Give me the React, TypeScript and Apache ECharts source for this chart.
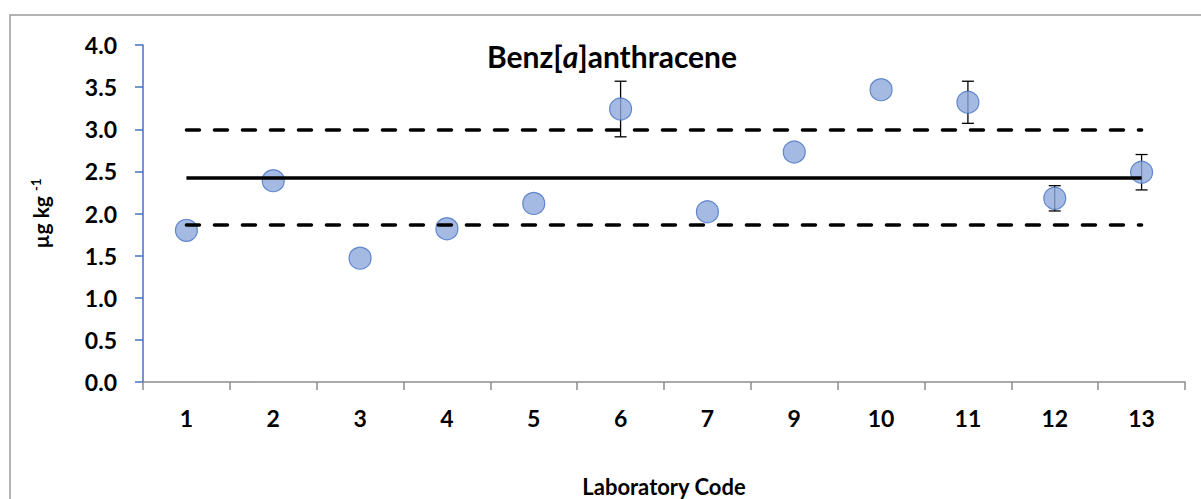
import React, { useEffect, useRef } from "react";
import * as echarts from "echarts";

// Laboratory codes and reported means (µg kg-1) with their uncertainties
const labCodes = ["1", "2", "3", "4", "5", "6", "7", "9", "10", "11", "12", "13"];
const labMeans = [1.8, 2.39, 1.47, 1.82, 2.12, 3.24, 2.02, 2.73, 3.47, 3.32, 2.18, 2.49];
const labUncert = [0, 0, 0, 0, 0, 0.33, 0, 0, 0, 0.25, 0.15, 0.21];

// Assigned value and the acceptance band around it
const assignedValue = 2.43;
const upperLimit = 2.99;
const lowerLimit = 1.87;

const yTicks = { min: 0, max: 4, step: 0.5 };

const FONT = "Lato";

export default function App() {
  const ref = useRef<HTMLDivElement>(null);

  useEffect(() => {
    if (!ref.current) return;
    const chart = echarts.init(ref.current, null, { renderer: "svg" });

    const errData = labCodes
      .map((c, i) => [i, labMeans[i] - labUncert[i], labMeans[i] + labUncert[i]])
      .filter((d, i) => labUncert[i] > 0);

    const first = labCodes[0];
    const last = labCodes[labCodes.length - 1];

    chart.setOption({
      animation: false,
      textStyle: { fontFamily: FONT },
      title: {
        text: "{b|Benz[}{i|a}{b|]anthracene}",
        left: 607,
        top: 36,
        textAlign: "center",
        textStyle: {
          rich: {
            b: { fontFamily: FONT, fontWeight: "bold", fontSize: 30, color: "#000" },
            i: { fontFamily: FONT, fontWeight: "bold", fontStyle: "italic", fontSize: 30, color: "#000" },
          },
        },
      },
      graphic: [
        {
          type: "rect",
          silent: true,
          shape: { x: 10, y: 15, width: 1200, height: 500 },
          style: { fill: "none", stroke: "#9A9A9A", lineWidth: 1.5 },
        },
      ],
      grid: { left: 143, right: 16, top: 45, bottom: 117, outerBoundsMode: "none", containLabel: false },
      xAxis: {
        type: "category",
        data: labCodes,
        boundaryGap: true,
        name: "Laboratory Code",
        nameLocation: "middle",
        nameGap: 93,
        nameTextStyle: { fontFamily: FONT, fontWeight: "bold", fontSize: 22, color: "#000" },
        axisLine: { lineStyle: { color: "#8C8C8C", width: 1.5 } },
        axisTick: { show: true, alignWithLabel: false, length: 8, lineStyle: { color: "#8C8C8C", width: 1.5 } },
        axisLabel: { margin: 24, fontFamily: FONT, fontWeight: "bold", fontSize: 23, color: "#000" },
        splitLine: { show: false },
      },
      yAxis: {
        type: "value",
        min: yTicks.min,
        max: yTicks.max,
        interval: yTicks.step,
        name: "{a|µg kg }{s|-1}",
        nameLocation: "middle",
        nameGap: 92,
        nameRotate: 90,
        nameTextStyle: {
          rich: {
            a: { fontFamily: FONT, fontWeight: "bold", fontSize: 21, color: "#000" },
            s: { fontFamily: FONT, fontWeight: "bold", fontSize: 13, color: "#000", verticalAlign: "top", padding: [0, 0, 9, 0] },
          },
        },
        axisLine: { show: true, lineStyle: { color: "#4472C4", width: 1.5 } },
        axisTick: { show: true, length: 8, lineStyle: { color: "#4472C4", width: 1.5 } },
        axisLabel: {
          margin: 26,
          fontFamily: FONT,
          fontWeight: "bold",
          fontSize: 23,
          color: "#000",
          formatter: (v: number) => v.toFixed(1),
        },
        splitLine: { show: false },
      },
      series: [
        {
          type: "custom",
          z: 2,
          data: errData,
          renderItem: (params: any, api: any) => {
            const x = api.coord([api.value(0), 0])[0];
            const lo = api.coord([api.value(0), api.value(1)])[1];
            const hi = api.coord([api.value(0), api.value(2)])[1];
            const cap = 6;
            const style = { stroke: "#000", lineWidth: 1.3 };
            return {
              type: "group",
              children: [
                { type: "line", shape: { x1: x, y1: lo, x2: x, y2: hi }, style },
                { type: "line", shape: { x1: x - cap, y1: hi, x2: x + cap, y2: hi }, style },
                { type: "line", shape: { x1: x - cap, y1: lo, x2: x + cap, y2: lo }, style },
              ],
            };
          },
        },
        {
          type: "scatter",
          z: 3,
          data: labMeans,
          symbol: "circle",
          symbolSize: 22,
          itemStyle: { color: "#8EA9DB", borderColor: "#4472C4", borderWidth: 1.2 },
          markLine: {
            silent: true,
            symbol: ["none", "none"],
            label: { show: false },
            z: 5,
            data: [
              [
                { coord: [first, assignedValue], lineStyle: { type: "solid", color: "#000", width: 3.5 } },
                { coord: [last, assignedValue] },
              ],
              [
                { coord: [first, upperLimit], lineStyle: { type: [13, 15], cap: "round", color: "#000", width: 3.5 } },
                { coord: [last, upperLimit] },
              ],
              [
                { coord: [first, lowerLimit], lineStyle: { type: [13, 15], cap: "round", color: "#000", width: 3.5 } },
                { coord: [last, lowerLimit] },
              ],
            ],
          },
        },
      ],
    });

    return () => chart.dispose();
  }, []);

  return (
    <div
      ref={ref}
      style={{ position: "absolute", left: 0, top: 0, width: 1201, height: 499, background: "#fff" }}
    />
  );
}
